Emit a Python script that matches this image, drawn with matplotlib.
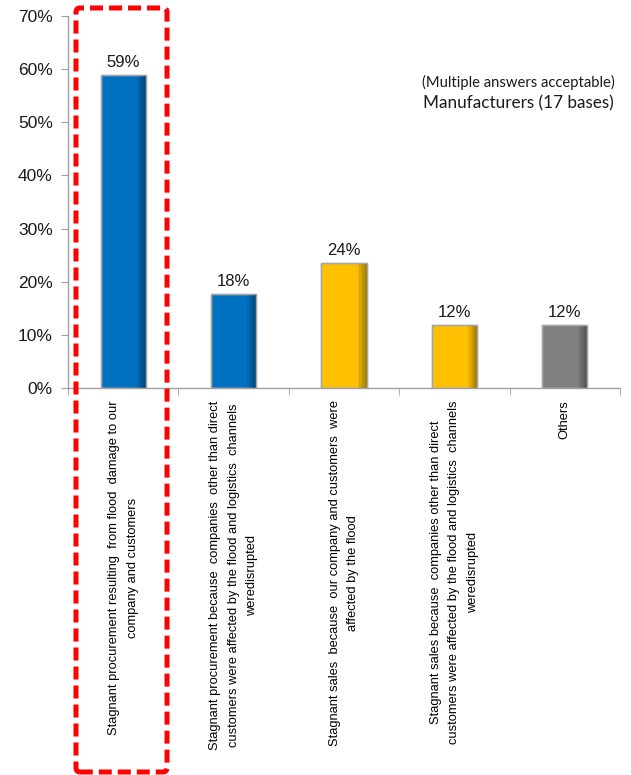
import numpy as np
import matplotlib
matplotlib.use("Agg")
import matplotlib.pyplot as plt
from matplotlib.patches import FancyBboxPatch

# survey answers, manufacturers (17 bases)
categories = [
    "Stagnant procurement resulting  from flood  damage to our\ncompany and customers",
    "Stagnant procurement because  companies  other than direct\ncustomers were affected by the flood and logistics  channels\nweredisrupted",
    "Stagnant sales  because  our company and customers  were\naffected by the flood",
    "Stagnant sales because  companies other than direct\ncustomers were affected by the flood and logistics  channels\nweredisrupted",
    "Others",
]
values = [58.8, 17.6, 23.5, 11.8, 11.8]
value_labels = ["59%", "18%", "24%", "12%", "12%"]
bar_colors = ["#0070C0", "#0070C0", "#FFC000", "#FFC000", "#7F7F7F"]
shade_colors = ["#003A66", "#003A66", "#8C6A00", "#8C6A00", "#444444"]
y_ticks = [0, 10, 20, 30, 40, 50, 60, 70]

plt.rcParams['font.family'] = ['Liberation Sans', 'DejaVu Sans']

fig = plt.figure(figsize=(6.31, 7.75), dpi=100)
ax = fig.add_axes([0.1078, 0.4994, 0.8748, 0.48])

x = np.arange(len(values))
w = 0.41
ax.bar(x, values, width=w, color=bar_colors, edgecolor="#A6A6A6", linewidth=1.0, zorder=2)

# darker strip on right side of each bar (rough gradient)
n_strips = 5
strip_w = w * 0.2 / n_strips
for k in range(n_strips):
    pos = x + w / 2 - w * 0.2 + strip_w * (k + 0.5)
    ax.bar(pos, values, width=strip_w, color=shade_colors, alpha=0.15 + 0.15 * k,
           linewidth=0, zorder=3)
ax.bar(x, values, width=w, color="none", edgecolor="#A6A6A6", linewidth=1.0, zorder=4)

for xi, v, lab in zip(x, values, value_labels):
    ax.text(xi, v + 1.0, lab, ha="center", va="bottom", fontsize=12, color="#1a1a1a")

ax.set_xlim(-0.5, len(values) - 0.5)
ax.set_ylim(0, 70)
ax.set_yticks(y_ticks)
ax.set_yticklabels([f"{t}%" for t in y_ticks], fontsize=12.5, color="#1a1a1a")

ax.set_xticks(x)
ax.set_xticklabels(categories, rotation=90, fontsize=9.3, linespacing=1.75,
                   multialignment="center", va="top", ha="center")
ax.set_xticks(np.arange(len(values) + 1) - 0.5, minor=True)
ax.tick_params(axis="x", which="major", length=0, pad=9)
ax.tick_params(axis="x", which="minor", length=5, color="#A0A0A0", direction="out")
ax.tick_params(axis="y", length=5, color="#A0A0A0", direction="out", pad=6)

for s in ["top", "right"]:
    ax.spines[s].set_visible(False)
for s in ["left", "bottom"]:
    ax.spines[s].set_color("#A0A0A0")
    ax.spines[s].set_linewidth(1.0)

fig.text(0.821, 0.893, "(Multiple answers acceptable)", ha="center", va="center",
         fontsize=10.6, family=["Lato", "DejaVu Sans"], color="#1a1a1a")
fig.text(0.821, 0.866, "Manufacturers (17 bases)", ha="center", va="center",
         fontsize=12.3, family=["Lato", "DejaVu Sans"], color="#1a1a1a")

# red dashed highlight box around first category
box = FancyBboxPatch((0.1204, 0.0039), 0.1443, 0.9858, transform=fig.transFigure,
                     boxstyle="round,pad=0,rounding_size=0.006", fill=False,
                     edgecolor="#FF0000", linewidth=3.6, linestyle=(0, (2.6, 1.2)),
                     zorder=10)
fig.patches.append(box)

fig.savefig("out.png", dpi=100)
